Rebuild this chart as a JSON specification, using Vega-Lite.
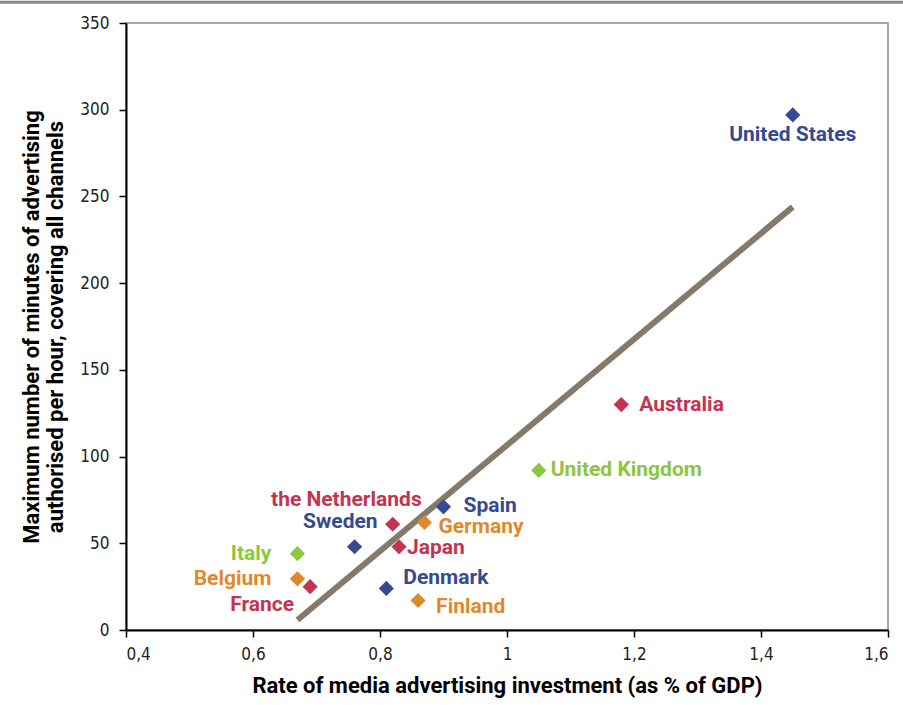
{
  "$schema": "https://vega.github.io/schema/vega-lite/v6.json",
  "width": 762,
  "height": 607,
  "autosize": {"type": "none"},
  "padding": {"left": 126, "top": 23, "right": 15, "bottom": 75},
  "background": "white",
  "config": {
    "view": {"stroke": "#8a8a8a", "strokeWidth": 1.5},
    "text": {"font": "Roboto", "fontWeight": "bold", "fontSize": 21, "baseline": "middle"}
  },
  "datasets": {
    "countries": [
      {"country": "United States", "investment": 1.45, "minutes": 297, "group": "A"},
      {"country": "Australia", "investment": 1.18, "minutes": 130, "group": "B"},
      {"country": "United Kingdom", "investment": 1.05, "minutes": 92, "group": "C"},
      {"country": "Spain", "investment": 0.9, "minutes": 71, "group": "A"},
      {"country": "Germany", "investment": 0.87, "minutes": 62, "group": "D"},
      {"country": "the Netherlands", "investment": 0.82, "minutes": 61, "group": "B"},
      {"country": "Japan", "investment": 0.83, "minutes": 48, "group": "B"},
      {"country": "Sweden", "investment": 0.76, "minutes": 48, "group": "A"},
      {"country": "Italy", "investment": 0.67, "minutes": 44, "group": "C"},
      {"country": "Belgium", "investment": 0.67, "minutes": 29.5, "group": "D"},
      {"country": "France", "investment": 0.69, "minutes": 25, "group": "B"},
      {"country": "Denmark", "investment": 0.81, "minutes": 24, "group": "A"},
      {"country": "Finland", "investment": 0.86, "minutes": 17, "group": "D"}
    ],
    "trend": [
      {"investment": 0.67, "minutes": 5.8},
      {"investment": 1.45, "minutes": 244}
    ],
    "topline": [
      {"x1": 0.2, "x2": 1.63, "y": 362}
    ]
  },
  "encoding": {
    "x": {
      "field": "investment", "type": "quantitative",
      "scale": {"domain": [0.4, 1.6], "nice": false, "zero": false},
      "axis": {
        "title": "Rate of media advertising investment (as % of GDP)",
        "values": [0.4, 0.6, 0.8, 1, 1.2, 1.4, 1.6],
        "format": ",.1~f",
        "labelExpr": "replace(datum.label, '.', ',')",
        "grid": false,
        "domainColor": "black", "domainWidth": 2,
        "tickColor": "black", "tickWidth": 1.5, "tickSize": 7,
        "labelFont": "DejaVu Sans Condensed", "labelFontSize": 17, "labelColor": "#222",
        "labelPadding": 9,
        "titleFont": "Roboto", "titleFontWeight": "bold", "titleFontSize": 22, "titleColor": "black",
        "titlePadding": 13
      }
    },
    "y": {
      "field": "minutes", "type": "quantitative",
      "scale": {"domain": [0, 350], "nice": false},
      "axis": {
        "title": ["Maximum number of minutes of advertising", "authorised per hour, covering all channels"],
        "values": [0, 50, 100, 150, 200, 250, 300, 350],
        "grid": false,
        "domainColor": "black", "domainWidth": 2,
        "tickColor": "black", "tickWidth": 1.5, "tickSize": 7,
        "labelFont": "DejaVu Sans Condensed", "labelFontSize": 17, "labelColor": "#222",
        "labelPadding": 10,
        "titleFont": "Roboto", "titleFontWeight": "bold", "titleFontSize": 22, "titleColor": "black",
        "titlePadding": 12, "titleLineHeight": 24
      }
    }
  },
  "layer": [
    {
      "data": {"name": "topline"},
      "mark": {"type": "rule", "color": "#8a8a8a", "strokeWidth": 3, "clip": false},
      "encoding": {
        "x": {"field": "x1", "type": "quantitative"},
        "x2": {"field": "x2"},
        "y": {"field": "y", "type": "quantitative"}
      }
    },
    {
      "data": {"name": "trend"},
      "mark": {"type": "line", "color": "#85796a", "strokeWidth": 6, "strokeCap": "butt"},
      "encoding": {}
    },
    {
      "data": {"name": "countries"},
      "mark": {"type": "point", "shape": "diamond", "filled": true, "opacity": 1, "size": 230},
      "encoding": {
        "color": {"field": "group", "type": "nominal", "legend": null,
          "scale": {"domain": ["A", "B", "C", "D"], "range": ["#354a90", "#c4344f", "#8dc63f", "#de8a2c"]}}
      }
    },
    {
      "data": {"name": "countries"},
      "transform": [{"filter": "datum.country == 'United States'"}],
      "mark": {"type": "text", "align": "center", "dx": 0, "dy": 20},
      "encoding": {"text": {"field": "country"}, "color": {"field": "group", "type": "nominal", "legend": null}}
    },
    {
      "data": {"name": "countries"},
      "transform": [{"filter": "datum.country == 'Australia'"}],
      "mark": {"type": "text", "align": "left", "dx": 18, "dy": 0},
      "encoding": {"text": {"field": "country"}, "color": {"field": "group", "type": "nominal", "legend": null}}
    },
    {
      "data": {"name": "countries"},
      "transform": [{"filter": "datum.country == 'United Kingdom'"}],
      "mark": {"type": "text", "align": "left", "dx": 12, "dy": 0},
      "encoding": {"text": {"field": "country"}, "color": {"field": "group", "type": "nominal", "legend": null}}
    },
    {
      "data": {"name": "countries"},
      "transform": [{"filter": "datum.country == 'Spain'"}],
      "mark": {"type": "text", "align": "left", "dx": 20, "dy": -1},
      "encoding": {"text": {"field": "country"}, "color": {"field": "group", "type": "nominal", "legend": null}}
    },
    {
      "data": {"name": "countries"},
      "transform": [{"filter": "datum.country == 'Germany'"}],
      "mark": {"type": "text", "align": "left", "dx": 14, "dy": 5},
      "encoding": {"text": {"field": "country"}, "color": {"field": "group", "type": "nominal", "legend": null}}
    },
    {
      "data": {"name": "countries"},
      "transform": [{"filter": "datum.country == 'Japan'"}],
      "mark": {"type": "text", "align": "left", "dx": 8, "dy": 1},
      "encoding": {"text": {"field": "country"}, "color": {"field": "group", "type": "nominal", "legend": null}}
    },
    {
      "data": {"name": "countries"},
      "transform": [{"filter": "datum.country == 'Denmark'"}],
      "mark": {"type": "text", "align": "left", "dx": 17, "dy": -10},
      "encoding": {"text": {"field": "country"}, "color": {"field": "group", "type": "nominal", "legend": null}}
    },
    {
      "data": {"name": "countries"},
      "transform": [{"filter": "datum.country == 'Finland'"}],
      "mark": {"type": "text", "align": "left", "dx": 18, "dy": 6},
      "encoding": {"text": {"field": "country"}, "color": {"field": "group", "type": "nominal", "legend": null}}
    },
    {
      "data": {"name": "countries"},
      "transform": [{"filter": "datum.country == 'the Netherlands'"}],
      "mark": {"type": "text", "align": "right", "dx": 29, "dy": -24},
      "encoding": {"text": {"field": "country"}, "color": {"field": "group", "type": "nominal", "legend": null}}
    },
    {
      "data": {"name": "countries"},
      "transform": [{"filter": "datum.country == 'Sweden'"}],
      "mark": {"type": "text", "align": "right", "dx": 23, "dy": -25},
      "encoding": {"text": {"field": "country"}, "color": {"field": "group", "type": "nominal", "legend": null}}
    },
    {
      "data": {"name": "countries"},
      "transform": [{"filter": "datum.country == 'Italy' || datum.country == 'Belgium'"}],
      "mark": {"type": "text", "align": "right", "dx": -26, "dy": 0},
      "encoding": {"text": {"field": "country"}, "color": {"field": "group", "type": "nominal", "legend": null}}
    },
    {
      "data": {"name": "countries"},
      "transform": [{"filter": "datum.country == 'France'"}],
      "mark": {"type": "text", "align": "right", "dx": -16, "dy": 18},
      "encoding": {"text": {"field": "country"}, "color": {"field": "group", "type": "nominal", "legend": null}}
    }
  ]
}
